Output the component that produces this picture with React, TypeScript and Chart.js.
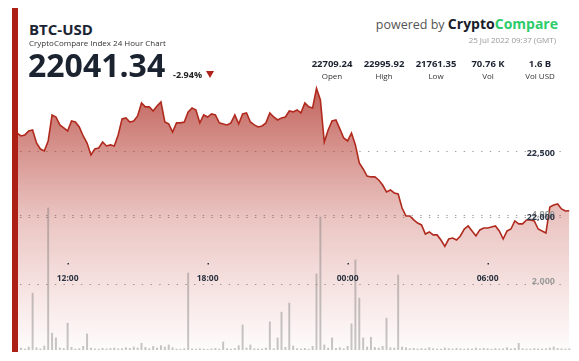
import React, { useEffect, useRef } from "react";
import { Chart, registerables } from "chart.js";

Chart.register(...registerables);

// Sampling grid: 24 Jul 09:40 onward, every 10 minutes (minutes since 24 Jul 00:00)
const startMinute = 580;
const stepMinutes = 10;
const rangeStart = 577; // 24 Jul 09:37
const rangeEnd = 2017; // 25 Jul 09:37

const prices = [
  22648, 22648, 22625, 22633, 22664, 22672, 22570, 22523, 22508, 22586,
  22789, 22773, 22711, 22688, 22664, 22742, 22734, 22695, 22625, 22570,
  22477, 22523, 22531, 22578, 22547, 22555, 22547, 22633, 22758, 22766,
  22734, 22742, 22781, 22883, 22852, 22852, 22820, 22859, 22891, 22734,
  22719, 22656, 22727, 22727, 22734, 22813, 22844, 22828, 22727, 22789,
  22773, 22797, 22789, 22727, 22719, 22711, 22727, 22789, 22719, 22797,
  22805, 22734, 22711, 22695, 22703, 22727, 22805, 22773, 22750, 22766,
  22773, 22820, 22813, 22828, 22805, 22883, 22852, 22844, 22996, 22906,
  22578, 22672, 22742, 22750, 22680, 22609, 22586, 22648, 22555, 22414,
  22367, 22312, 22305, 22305, 22281, 22242, 22188, 22203, 22180, 22172,
  22062, 22000, 22000, 21969, 21945, 21930, 21859, 21875, 21852, 21852,
  21812, 21762, 21820, 21828, 21812, 21844, 21898, 21922, 21883, 21844,
  21891, 21906, 21906, 21914, 21922, 21883, 21820, 21883, 21898, 21961,
  21938, 21938, 21969, 21969, 21961, 21898, 21883, 21867, 22070, 22086,
  22094, 22055, 22039, 22041,
];

const volumes = [
  40, 25, 60, 30, 90, 1700, 70, 35, 120, 4240,
  500, 360, 60, 45, 800, 80, 30, 40, 110, 480,
  60, 35, 25, 50, 30, 45, 60, 35, 40, 70,
  50, 90, 60, 200, 80, 40, 110, 60, 130, 90,
  150, 70, 30, 25, 40, 2300, 35, 25, 40, 30,
  20, 35, 50, 30, 240, 40, 25, 45, 130, 750,
  60, 150, 40, 35, 30, 60, 840, 40, 360, 1130,
  80, 1400, 120, 40, 30, 50, 25, 110, 2270, 3970,
  150, 60, 360, 50, 70, 40, 110, 780, 2690, 1550,
  360, 90, 380, 80, 60, 110, 950, 70, 60, 2240,
  90, 70, 40, 50, 30, 45, 35, 70, 40, 30,
  25, 60, 40, 30, 50, 35, 25, 40, 30, 60,
  35, 50, 40, 25, 45, 30, 40, 70, 35, 50,
  200, 40, 30, 25, 45, 35, 30, 40, 60, 90,
  45, 35, 30, 40,
];

const timeTickMinutes = [720, 1080, 1440, 1800];
const timeTickLabels = ["12:00", "18:00", "00:00", "06:00"];
const priceTicks = [22000, 22500];
const volumeTicks = [2000, 4000];
const priceMin = 20953;
const priceMax = 23023;
const volumeMax = 7910;

const statValues = ["22709.24", "22995.92", "21761.35", "70.76 K", "1.6 B"];
const statLabels = ["Open", "High", "Low", "Vol", "Vol USD"];

const FONT = "'Open Sans', 'Noto Sans', sans-serif";

const fmt = (v: number) => v.toLocaleString("en-US");

const overlayPlugin = {
  id: "overlay",
  beforeDatasetsDraw(chart: any) {
    const { ctx, chartArea, scales } = chart;
    ctx.save();
    ctx.setLineDash([1.4, 7.3]);
    ctx.strokeStyle = "rgba(80,80,80,0.55)";
    ctx.lineWidth = 1;
    const ys = [
      ...priceTicks.map((v) => scales.y.getPixelForValue(v) - 1),
      ...volumeTicks.map((v) => scales.yv.getPixelForValue(v) + 1),
    ];
    for (const y of ys) {
      const yy = Math.round(y) + 0.5;
      ctx.beginPath();
      ctx.moveTo(chartArea.left + 8, yy);
      ctx.lineTo(chartArea.right - 4, yy);
      ctx.stroke();
    }
    ctx.restore();
  },
  afterDatasetsDraw(chart: any) {
    const { ctx, chartArea, scales } = chart;
    ctx.save();
    ctx.font = `bold 8.5px ${FONT}`;
    ctx.textAlign = "center";
    ctx.textBaseline = "alphabetic";
    timeTickMinutes.forEach((m, i) => {
      const x = scales.x.getPixelForValue(m);
      ctx.fillStyle = "#2b3340";
      ctx.fillRect(Math.round(x) - 0.5, chartArea.top + 178, 1.5, 1.5);
      ctx.fillText(timeTickLabels[i], x, chartArea.top + 196);
    });
    ctx.textAlign = "right";
    ctx.textBaseline = "middle";
    const rx = chartArea.right - 17;
    ctx.font = `bold 9px ${FONT}`;
    ctx.fillStyle = "#9a9a9a";
    volumeTicks.forEach((v) => {
      ctx.fillText(fmt(v), rx, scales.yv.getPixelForValue(v) - 2);
    });
    ctx.fillStyle = "#2b3545";
    priceTicks.forEach((v) => {
      ctx.fillText(fmt(v), rx, scales.y.getPixelForValue(v) + 1);
    });
    ctx.restore();
  },
};

function PriceChart() {
  const ref = useRef<HTMLCanvasElement | null>(null);
  useEffect(() => {
    if (!ref.current) return;
    const minutes = prices.map((_, i) => startMinute + i * stepMinutes);
    const chart = new Chart(ref.current, {
      type: "line",
      data: {
        datasets: [
          {
            type: "bar",
            yAxisID: "yv",
            data: minutes.map((m, i) => ({ x: m, y: volumes[i] })),
            backgroundColor: "rgba(120,120,120,0.42)",
            barThickness: 1.3,
            grouped: false,
            order: 0,
          } as any,
          {
            type: "line",
            yAxisID: "y",
            data: minutes.map((m, i) => ({ x: m, y: prices[i] })),
            borderColor: "#b02a1e",
            borderWidth: 1.6,
            pointRadius: 0,
            tension: 0,
            fill: "start",
            backgroundColor: (c: any) => {
              const { ctx, chartArea } = c.chart;
              if (!chartArea) return "rgba(175,45,35,0.35)";
              const g = ctx.createLinearGradient(0, chartArea.top, 0, chartArea.bottom);
              g.addColorStop(0, "rgba(172,42,32,0.74)");
              g.addColorStop(0.5, "rgba(185,60,50,0.3)");
              g.addColorStop(1, "rgba(200,80,70,0.02)");
              return g;
            },
            order: 1,
          },
        ],
      },
      options: {
        animation: false,
        responsive: false,
        layout: { padding: 0 },
        plugins: { legend: { display: false }, tooltip: { enabled: false } },
        scales: {
          x: { type: "linear", min: rangeStart, max: rangeEnd, offset: false, display: false },
          y: { min: priceMin, max: priceMax, display: false },
          yv: { min: 0, max: volumeMax, display: false },
        },
      },
      plugins: [overlayPlugin],
    });
    return () => chart.destroy();
  }, []);
  return <canvas ref={ref} width={560} height={265} style={{ display: "block" }} />;
}

export default function App() {
  const abs = (left: number, top: number, extra: React.CSSProperties = {}): React.CSSProperties => ({
    position: "absolute",
    left,
    top,
    lineHeight: 1,
    whiteSpace: "nowrap",
    fontFamily: FONT,
    ...extra,
  });
  const centers = [332, 384, 436, 488, 540];
  return (
    <div style={{ position: "absolute", left: 0, top: 0, width: 579, height: 361, background: "#fff", overflow: "hidden" }}>
      <div style={{ position: "absolute", left: 12, top: 85 }}>
        <PriceChart />
      </div>
      <div style={{ position: "absolute", left: 12, top: 8, width: 6, height: 344, background: "#ad2016" }} />
      <div style={abs(29, 21.5, { fontSize: 15, fontWeight: 700, color: "#1b2433" })}>BTC-USD</div>
      <div style={abs(29, 38.5, { fontSize: 8, color: "#333" })}>CryptoCompare Index 24 Hour Chart</div>
      <div style={abs(28, 48.5, { fontSize: 32, fontWeight: 700, color: "#1b2230" })}>22041.34</div>
      <div style={abs(173, 69.5, { fontSize: 9, fontWeight: 700, color: "#222" })}>-2.94%</div>
      <div
        style={{
          position: "absolute",
          left: 206,
          top: 71,
          width: 0,
          height: 0,
          borderLeft: "4px solid transparent",
          borderRight: "4px solid transparent",
          borderTop: "7px solid #b0211a",
        }}
      />
      <div style={{ position: "absolute", right: 21, top: 15, lineHeight: 1, whiteSpace: "nowrap", fontFamily: FONT }}>
        <span style={{ fontSize: 12.5, color: "#555" }}>powered by </span>
        <span style={{ fontSize: 14, fontWeight: 700, color: "#1a1d2b" }}>Crypto</span>
        <span style={{ fontSize: 14, fontWeight: 700, color: "#2dcc6a" }}>Compare</span>
      </div>
      <div style={{ position: "absolute", right: 23, top: 36, lineHeight: 1, whiteSpace: "nowrap", fontFamily: FONT, fontSize: 8, color: "#999" }}>
        25 Jul 2022 09:37 (GMT)
      </div>
      {statValues.map((v, i) => (
        <div key={v} style={abs(centers[i] - 26, 58.5, { width: 52, textAlign: "center", fontSize: 9.5, fontWeight: 700, color: "#1d2330" })}>
          {v}
        </div>
      ))}
      {statLabels.map((v, i) => (
        <div key={v} style={abs(centers[i] - 26, 71.5, { width: 52, textAlign: "center", fontSize: 8, color: "#333" })}>
          {v}
        </div>
      ))}
    </div>
  );
}
